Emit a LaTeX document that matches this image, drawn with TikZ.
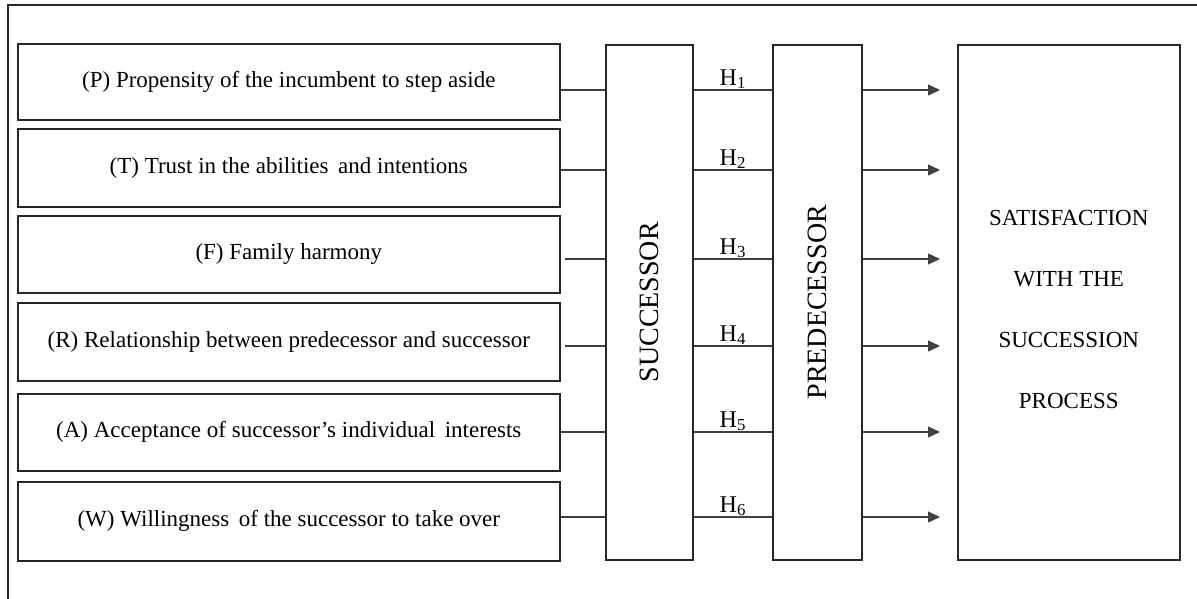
\documentclass[tikz,border=0pt]{standalone}
\usepackage{fontspec}
\setmainfont{Liberation Serif}
\usetikzlibrary{arrows.meta,positioning}

\begin{document}
\begin{tikzpicture}[x=1pt,y=-1pt,
		factor/.style={rectangle,draw=black!85,line width=1.6pt,minimum width=542pt,inner sep=0pt,anchor=north west,font=\fontsize{23}{27}\selectfont},
		stage/.style={rectangle,draw=black!85,line width=1.6pt,minimum height=515pt,inner sep=0pt,anchor=north west},
		link/.style={draw=black!75,line width=1.2pt},
		hyp/.style={above,inner sep=0.5pt,text=black,font=\fontsize{24}{28}\selectfont},
		tip/.style={-{Triangle[length=12pt,width=11pt]},shorten >=17pt}]
		\useasboundingbox (0,0) rectangle (1197,598);

		% outer frame
		\draw[black!85,line width=1.6pt] (8,600) -- (8,5) -- (1200,5);

		% factors
		\node[factor,minimum height=76pt] (p) at (17,43) {(P) Propensity of the incumbent to step aside};
		\node[factor,minimum height=78pt] (t) at (17,128) {(T) Trust in the abilities\, and intentions};
		\node[factor,minimum height=77pt] (f) at (17,215) {(F) Family harmony};
		\node[factor,minimum height=78pt] (r) at (17,302) {(R) Relationship between predecessor and successor};
		\node[factor,minimum height=77pt] (a) at (17,393) {(A) Acceptance of successor’s individual\, interests};
		\node[factor,minimum height=79pt] (w) at (17,481) {(W) Willingness\, of the successor to take over};

		% successor, predecessor and outcome
		\node[stage,minimum width=87pt] (succ) at (605,44) {};
		\node[stage,minimum width=89pt] (pred) at (772,44) {};
		\node[stage,minimum width=222pt] (sat) at (957,44) {};
		\node[rotate=90,font=\fontsize{28}{32}\selectfont] (succlabel) at (succ.center) {SUCCESSOR};
		\node[rotate=90,font=\fontsize{28}{32}\selectfont] (predlabel) at (pred.center) {PREDECESSOR};
		\node[align=center,font=\fontsize{23}{61}\selectfont,yshift=-7pt] (satlabel) at (sat.center) {SATISFACTION\\WITH THE\\SUCCESSION\\PROCESS};

		% rows
		\coordinate (r1) at (0,90);
		\coordinate (r2) at (0,170);
		\coordinate (r3) at (0,259);
		\coordinate (r4) at (0,346);
		\coordinate (r5) at (0,432);
		\coordinate (r6) at (0,517);

		% factors -> successor
		\draw[link] (p.east |- r1) -- (succ.west |- r1);
		\draw[link] (t.east |- r2) -- (succ.west |- r2);
		\draw[link,shorten <=4pt] (f.east |- r3) -- (succ.west |- r3);
		\draw[link,shorten <=4pt] (r.east |- r4) -- (succ.west |- r4);
		\draw[link] (a.east |- r5) -- (succ.west |- r5);
		\draw[link] (w.east |- r6) -- (succ.west |- r6);

		% hypotheses
		\draw[link] (succ.east |- r1) -- node[hyp] (h1) {H\textsubscript{1}} (pred.west |- r1);
		\draw[link] (succ.east |- r2) -- node[hyp] (h2) {H\textsubscript{2}} (pred.west |- r2);
		\draw[link] (succ.east |- r3) -- node[hyp] (h3) {H\textsubscript{3}} (pred.west |- r3);
		\draw[link] (succ.east |- r4) -- node[hyp] (h4) {H\textsubscript{4}} (pred.west |- r4);
		\draw[link] (succ.east |- r5) -- node[hyp] (h5) {H\textsubscript{5}} (pred.west |- r5);
		\draw[link] (succ.east |- r6) -- node[hyp] (h6) {H\textsubscript{6}} (pred.west |- r6);

		% predecessor -> satisfaction
		\draw[link,tip,fill=black!85] (pred.east |- r1) -- (sat.west |- r1);
		\draw[link,tip,fill=black!85] (pred.east |- r2) -- (sat.west |- r2);
		\draw[link,tip,fill=black!85] (pred.east |- r3) -- (sat.west |- r3);
		\draw[link,tip,fill=black!85] (pred.east |- r4) -- (sat.west |- r4);
		\draw[link,tip,fill=black!85] (pred.east |- r5) -- (sat.west |- r5);
		\draw[link,tip,fill=black!85] (pred.east |- r6) -- (sat.west |- r6);
	\end{tikzpicture}
\end{document}
